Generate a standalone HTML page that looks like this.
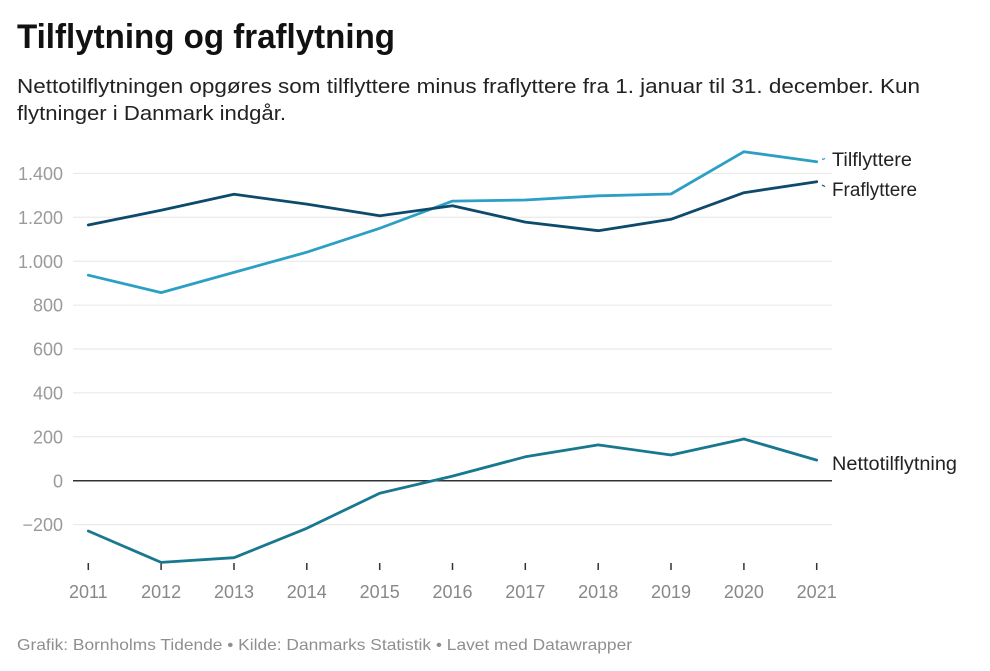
<!DOCTYPE html>
<html>
<head>
<meta charset="utf-8">
<style>
  html, body { margin: 0; padding: 0; background: #ffffff; }
  svg { display: block; }
  text { font-family: "Liberation Sans", Arial, sans-serif; }
</style>
</head>
<body>
<svg width="990" height="671" viewBox="0 0 990 671" xmlns="http://www.w3.org/2000/svg">
  <rect width="990" height="671" fill="#ffffff"/>

  <!-- Header -->
  <text x="17" y="48" font-size="34" font-weight="bold" fill="#111" textLength="378" lengthAdjust="spacingAndGlyphs">Tilflytning og fraflytning</text>
  <text x="17" y="93" font-size="20" fill="#222" textLength="903" lengthAdjust="spacingAndGlyphs">Nettotilflytningen opgøres som tilflyttere minus fraflyttere fra 1. januar til 31. december. Kun</text>
  <text x="17" y="120" font-size="20" fill="#222" textLength="269" lengthAdjust="spacingAndGlyphs">flytninger i Danmark indgår.</text>

  <!-- Gridlines -->
  <g stroke="#e6e6e6" stroke-width="1">
    <line x1="73" y1="173.4" x2="832" y2="173.4"/>
    <line x1="73" y1="217.3" x2="832" y2="217.3"/>
    <line x1="73" y1="261.2" x2="832" y2="261.2"/>
    <line x1="73" y1="305.1" x2="832" y2="305.1"/>
    <line x1="73" y1="349.0" x2="832" y2="349.0"/>
    <line x1="73" y1="392.9" x2="832" y2="392.9"/>
    <line x1="73" y1="436.8" x2="832" y2="436.8"/>
    <line x1="73" y1="524.6" x2="832" y2="524.6"/>
  </g>
  <line x1="73" y1="480.7" x2="832" y2="480.7" stroke="#333" stroke-width="1.5"/>

  <!-- Y labels -->
  <g font-size="18" fill="#9a9a9a" text-anchor="end">
    <text x="63" y="180">1.400</text>
    <text x="63" y="223.9">1.200</text>
    <text x="63" y="267.8">1.000</text>
    <text x="63" y="311.7">800</text>
    <text x="63" y="355.6">600</text>
    <text x="63" y="399.5">400</text>
    <text x="63" y="443.4">200</text>
    <text x="63" y="487.3">0</text>
    <text x="63" y="531.2">−200</text>
  </g>

  <!-- X ticks -->
  <g stroke="#333" stroke-width="1.5">
    <line x1="88.3" y1="563" x2="88.3" y2="570"/>
    <line x1="161.1" y1="563" x2="161.1" y2="570"/>
    <line x1="234.0" y1="563" x2="234.0" y2="570"/>
    <line x1="306.8" y1="563" x2="306.8" y2="570"/>
    <line x1="379.7" y1="563" x2="379.7" y2="570"/>
    <line x1="452.5" y1="563" x2="452.5" y2="570"/>
    <line x1="525.3" y1="563" x2="525.3" y2="570"/>
    <line x1="598.2" y1="563" x2="598.2" y2="570"/>
    <line x1="671.0" y1="563" x2="671.0" y2="570"/>
    <line x1="743.9" y1="563" x2="743.9" y2="570"/>
    <line x1="816.7" y1="563" x2="816.7" y2="570"/>
  </g>
  <g font-size="18" fill="#888" text-anchor="middle">
    <text x="88.3" y="598">2011</text>
    <text x="161.1" y="598">2012</text>
    <text x="234.0" y="598">2013</text>
    <text x="306.8" y="598">2014</text>
    <text x="379.7" y="598">2015</text>
    <text x="452.5" y="598">2016</text>
    <text x="525.3" y="598">2017</text>
    <text x="598.2" y="598">2018</text>
    <text x="671.0" y="598">2019</text>
    <text x="743.9" y="598">2020</text>
    <text x="816.7" y="598">2021</text>
  </g>

  <!-- Series -->
  <g fill="none" stroke-width="2.8" stroke-linejoin="round" stroke-linecap="round">
    <polyline stroke="#2c9fc5" points="88.3,275.2 161.1,292.6 234.0,272.4 306.8,252.2 379.7,228.3 452.5,201.1 525.3,200.0 598.2,195.8 671.0,194.0 743.9,151.7 816.7,161.8"/>
    <polyline stroke="#0e4a6b" points="88.3,225.0 161.1,210.3 234.0,194.3 306.8,204.1 379.7,215.8 452.5,205.7 525.3,222.1 598.2,230.7 671.0,219.3 743.9,192.7 816.7,181.7"/>
    <polyline stroke="#18788f" points="88.3,531.0 161.1,562.4 234.0,557.7 306.8,528.3 379.7,493.2 452.5,476.1 525.3,456.8 598.2,444.9 671.0,455.0 743.9,439.0 816.7,460.1"/>
  </g>

  <!-- Connector dots -->
  <line x1="822" y1="159.5" x2="825" y2="158.5" stroke="#2c9fc5" stroke-width="1.2"/>
  <line x1="822" y1="185" x2="825" y2="186.5" stroke="#0e4a6b" stroke-width="1.2"/>

  <!-- Series labels -->
  <g font-size="19" fill="#222">
    <text x="832" y="166" textLength="80" lengthAdjust="spacingAndGlyphs">Tilflyttere</text>
    <text x="832" y="196" textLength="85" lengthAdjust="spacingAndGlyphs">Fraflyttere</text>
    <text x="832" y="470" textLength="125" lengthAdjust="spacingAndGlyphs">Nettotilflytning</text>
  </g>

  <!-- Footer -->
  <text x="17" y="650" font-size="16" fill="#8f8f8f" textLength="615" lengthAdjust="spacingAndGlyphs">Grafik: Bornholms Tidende • Kilde: Danmarks Statistik • Lavet med Datawrapper</text>
</svg>
</body>
</html>
